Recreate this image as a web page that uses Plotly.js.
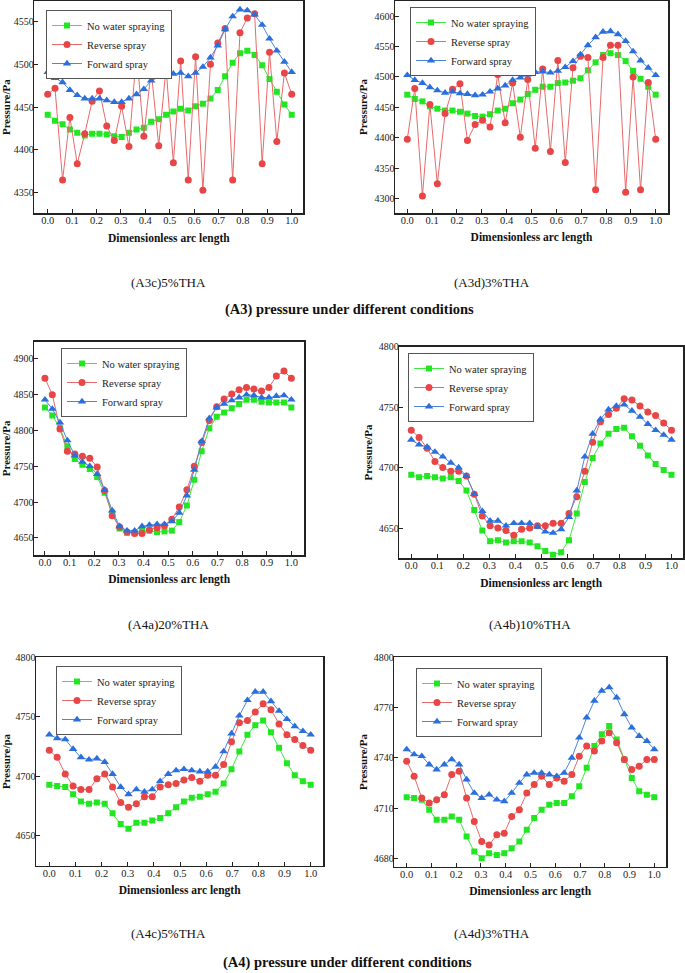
<!DOCTYPE html>
<html>
<head>
<meta charset="utf-8">
<script src="https://cdn.plot.ly/plotly-3.0.1.min.js"></script>
<style>html,body{margin:0;padding:0;background:#fff;}#chart{width:685px;height:973px;}</style>
</head>
<body>
<div id="chart"></div>
<script>
// Dimensionless arc length sample positions
var arcLength = [0,0.030,0.061,0.091,0.121,0.152,0.182,0.212,0.242,0.273,0.303,0.333,0.364,0.394,0.424,0.455,0.485,0.515,0.545,0.576,0.606,0.636,0.667,0.697,0.727,0.758,0.788,0.818,0.848,0.879,0.909,0.939,0.970,1.0];
var seriesNames = ["No water spraying", "Reverse spray", "Forward spray"];
var xTickVals = [0,0.1,0.2,0.3,0.4,0.5,0.6,0.7,0.8,0.9,1.0];
var xTickText = ["0.0","0.1","0.2","0.3","0.4","0.5","0.6","0.7","0.8","0.9","1.0"];

// (A3c) 5%THA
var a3c_none    = [4441,4434,4430,4424,4420,4417,4419,4419,4418,4416,4415,4420,4424,4426,4433,4436,4441,4445,4448,4446,4451,4454,4460,4470,4486,4502,4513,4516,4511,4499,4483,4468,4453,4441];
var a3c_reverse = [4465,4472,4365,4438,4384,4419,4457,4469,4428,4411,4451,4404,4514,4416,4493,4405,4496,4385,4504,4365,4509,4353,4500,4525,4542,4365,4537,4554,4559,4384,4514,4410,4490,4465];
var a3c_forward = [4491,4484,4479,4470,4464,4460,4460,4460,4458,4456,4456,4460,4465,4471,4481,4485,4488,4489,4490,4486,4490,4497,4508,4522,4541,4556,4564,4563,4558,4546,4530,4516,4503,4491];
// (A3d) 3%THA
var a3d_none    = [4471,4464,4460,4452,4448,4445,4445,4443,4440,4436,4435,4439,4445,4448,4457,4463,4472,4479,4484,4484,4490,4491,4494,4498,4511,4524,4536,4539,4536,4526,4510,4497,4484,4471];
var a3d_reverse = [4398,4481,4305,4455,4325,4440,4480,4489,4396,4422,4429,4418,4504,4425,4490,4401,4496,4383,4513,4378,4527,4360,4515,4534,4532,4315,4532,4552,4552,4311,4500,4315,4491,4398];
var a3d_forward = [4503,4495,4490,4483,4478,4474,4476,4473,4472,4470,4471,4476,4481,4486,4495,4499,4504,4508,4509,4507,4510,4516,4526,4537,4552,4565,4574,4575,4570,4559,4542,4527,4515,4503];
// (A4a) 20%THA
var a4a_none    = [4832,4821,4803,4778,4760,4752,4746,4735,4713,4685,4663,4657,4657,4661,4660,4658,4659,4660,4672,4695,4731,4771,4803,4819,4825,4831,4837,4843,4843,4840,4839,4839,4839,4832];
var a4a_reverse = [4873,4850,4802,4771,4767,4764,4761,4749,4716,4681,4665,4658,4656,4656,4661,4664,4667,4676,4693,4717,4750,4783,4814,4833,4844,4851,4857,4860,4858,4855,4860,4876,4883,4873];
var a4a_forward = [4843,4830,4811,4786,4765,4756,4750,4739,4717,4688,4666,4660,4660,4666,4668,4669,4669,4673,4685,4709,4745,4785,4817,4832,4837,4842,4846,4850,4849,4846,4846,4848,4849,4843];
// (A4b) 10%THA
var a4b_none    = [4694,4692,4693,4692,4691,4692,4689,4681,4665,4648,4639,4640,4638,4639,4639,4638,4635,4631,4628,4630,4640,4662,4688,4708,4720,4728,4732,4733,4726,4718,4710,4703,4698,4694];
var a4b_reverse = [4731,4725,4716,4705,4700,4697,4697,4693,4678,4660,4652,4650,4648,4644,4649,4650,4652,4652,4654,4654,4662,4676,4697,4721,4738,4744,4749,4757,4756,4751,4746,4743,4737,4731];
var a4b_forward = [4723,4719,4717,4713,4709,4704,4700,4693,4678,4664,4656,4656,4652,4654,4654,4654,4651,4647,4646,4649,4659,4681,4709,4728,4740,4748,4751,4752,4747,4742,4736,4731,4727,4723];
// (A4c) 5%THA
var a4c_none    = [4693,4692,4691,4685,4679,4677,4678,4677,4669,4660,4656,4661,4661,4663,4665,4669,4674,4679,4682,4683,4685,4687,4694,4706,4721,4735,4743,4747,4737,4724,4711,4701,4696,4693];
var a4c_reverse = [4722,4716,4702,4692,4689,4689,4698,4702,4691,4678,4674,4677,4683,4683,4691,4693,4694,4697,4699,4696,4701,4701,4710,4729,4745,4747,4754,4761,4756,4744,4735,4731,4726,4722];
var a4c_forward = [4735,4732,4731,4723,4716,4714,4715,4712,4702,4691,4685,4689,4687,4689,4696,4702,4705,4706,4705,4704,4704,4708,4721,4736,4751,4764,4771,4771,4763,4755,4748,4742,4738,4735];
// (A4d) 3%THA
var a4d_none    = [4716.5,4716,4715,4709,4703,4703,4705,4703,4693,4684,4680,4683,4682,4683,4686,4690,4697,4704,4709,4712,4713,4713,4717,4723,4734,4747,4754,4759,4751,4739,4728,4720,4718,4716.5];
var a4d_reverse = [4738,4729,4716,4713,4715,4718,4730,4732,4716,4702,4690,4688,4694,4695,4705,4709,4719,4724,4729,4724,4728,4726,4730,4741,4747,4744,4750,4755,4749,4739,4733,4735,4739,4739];
var a4d_forward = [4745,4742,4741,4736,4733,4736,4739,4736,4727,4719,4716,4718,4715,4714,4719,4725,4730,4731,4731,4730,4729,4731,4740,4752,4764,4774,4780,4782,4776,4766,4758,4753,4750,4745];

var panelSeries = [
  [a3c_none, a3c_reverse, a3c_forward],
  [a3d_none, a3d_reverse, a3d_forward],
  [a4a_none, a4a_reverse, a4a_forward],
  [a4b_none, a4b_reverse, a4b_forward],
  [a4c_none, a4c_reverse, a4c_forward],
  [a4d_none, a4d_reverse, a4d_forward]
];
var yTitles = ["Pressure/Pa","Pressure/Pa","Pressure/Pa","Pressure/Pa","Pressure/pa","Pressure/Pa"];

var W = 685, H = 973;
var SERIF = "Times New Roman";
// pixel frames: [left, right, top, bottom], x range, y range, y tick step, legend top-left
var frames = [
  {px:[34.3,303.3,1,213.3],   xr:[-0.0549,1.0475], yr:[4326,4574],   dt:50, lg:[46,10]},
  {px:[395,668,1,213],        xr:[-0.0495,1.0495], yr:[4277,4624.6], dt:50, lg:[410,7]},
  {px:[34,304.3,341.7,555],   xr:[-0.0444,1.0525], yr:[4626,4924],   dt:50, lg:[61,348]},
  {px:[399.3,683,346.7,558.3],xr:[-0.046,1.0442],  yr:[4625,4800],   dt:50, lg:[408,353]},
  {px:[36,323.3,657.3,865.7], xr:[-0.0509,1.0482], yr:[4625,4800],   dt:50, lg:[56,666]},
  {px:[394.3,666,657.3,866.7],xr:[-0.050,1.0473],  yr:[4675,4800],   dt:30, lg:[416,668]}
];
var styles = [
  {line:'#3fe83f', marker:'#22e622', symbol:'square', size:6},
  {line:'#e86a6a', marker:'#e84646', symbol:'circle', size:7},
  {line:'#4a86e0', marker:'#2a6fdb', symbol:'triangle-up', size:7.5}
];

var traces = [];
var layout = {
  width: W, height: H,
  margin: {l:0, r:0, t:0, b:0},
  paper_bgcolor: '#fff', plot_bgcolor: '#fff',
  font: {family: SERIF, color: '#222', size: 11},
  annotations: [],
  showlegend: true
};

frames.forEach(function(f, i) {
  var n = i + 1;
  var xa = n === 1 ? 'xaxis' : 'xaxis' + n;
  var ya = n === 1 ? 'yaxis' : 'yaxis' + n;
  var xref = n === 1 ? 'x' : 'x' + n;
  var yref = n === 1 ? 'y' : 'y' + n;
  var lg = n === 1 ? 'legend' : 'legend' + n;
  panelSeries[i].forEach(function(vals, k) {
    var s = styles[k];
    traces.push({
      type: 'scatter', mode: 'lines+markers',
      x: arcLength, y: vals, name: seriesNames[k],
      xaxis: xref, yaxis: yref, legend: lg,
      line: {color: s.line, width: 1},
      marker: {color: s.marker, symbol: s.symbol, size: s.size, line: {width: 0}}
    });
  });
  var axBase = {
    showgrid: false, zeroline: false,
    showline: true, linecolor: '#222', linewidth: 1.5, mirror: true,
    ticks: 'inside', ticklen: 4, tickwidth: 1, tickcolor: '#222',
    tickfont: {family: SERIF, size: 10.5, color: '#222'}
  };
  layout[xa] = Object.assign({}, axBase, {
    domain: [f.px[0]/W, f.px[1]/W], range: f.xr, anchor: yref,
    tickmode: 'array', tickvals: xTickVals, ticktext: xTickText,
    ticklabelstandoff: -3,
    title: {text: '<b>Dimensionless arc length</b>', font: {family: SERIF, size: 11.5, color: '#111'}, standoff: 8}
  });
  var yt0 = Math.ceil(f.yr[0] / f.dt) * f.dt;
  layout[ya] = Object.assign({}, axBase, {
    domain: [1 - f.px[3]/H, 1 - f.px[2]/H], range: f.yr, anchor: xref,
    tickmode: 'linear', tick0: yt0, dtick: f.dt,
    tickfont: {family: SERIF, size: 10, color: '#222'},
    ticklabelstandoff: -3,
    title: {text: '<b>' + yTitles[i] + '</b>', font: {family: SERIF, size: 11, color: '#111'}, standoff: 4}
  });
  layout[lg] = {
    x: f.lg[0]/W, y: 1 - f.lg[1]/H, xanchor: 'left', yanchor: 'top',
    xref: 'paper', yref: 'paper',
    bgcolor: '#fff', bordercolor: '#555', borderwidth: 1,
    font: {family: SERIF, size: 10.5, color: '#222'},
    tracegroupgap: 0, itemwidth: 30
  };
});

var captions = [
  ['(A3c)5%THA', 168, 282, 13, false],
  ['(A3d)3%THA', 492, 282, 13, false],
  ['(A3) pressure under different conditions', 349, 309, 14.5, true],
  ['(A4a)20%THA', 168, 624, 13, false],
  ['(A4b)10%THA', 530, 624, 13, false],
  ['(A4c)5%THA', 168, 933, 13, false],
  ['(A4d)3%THA', 492, 933, 13, false],
  ['(A4) pressure under different conditions', 348, 962, 14.5, true]
];
captions.forEach(function(c) {
  layout.annotations.push({
    text: c[4] ? '<b>' + c[0] + '</b>' : c[0],
    x: c[1]/W, y: 1 - c[2]/H, xref: 'paper', yref: 'paper',
    xanchor: 'center', yanchor: 'middle', showarrow: false,
    font: {family: SERIF, size: c[3], color: '#111'}
  });
});

Plotly.newPlot('chart', traces, layout, {displayModeBar: false, staticPlot: true});
</script>
</body>
</html>
